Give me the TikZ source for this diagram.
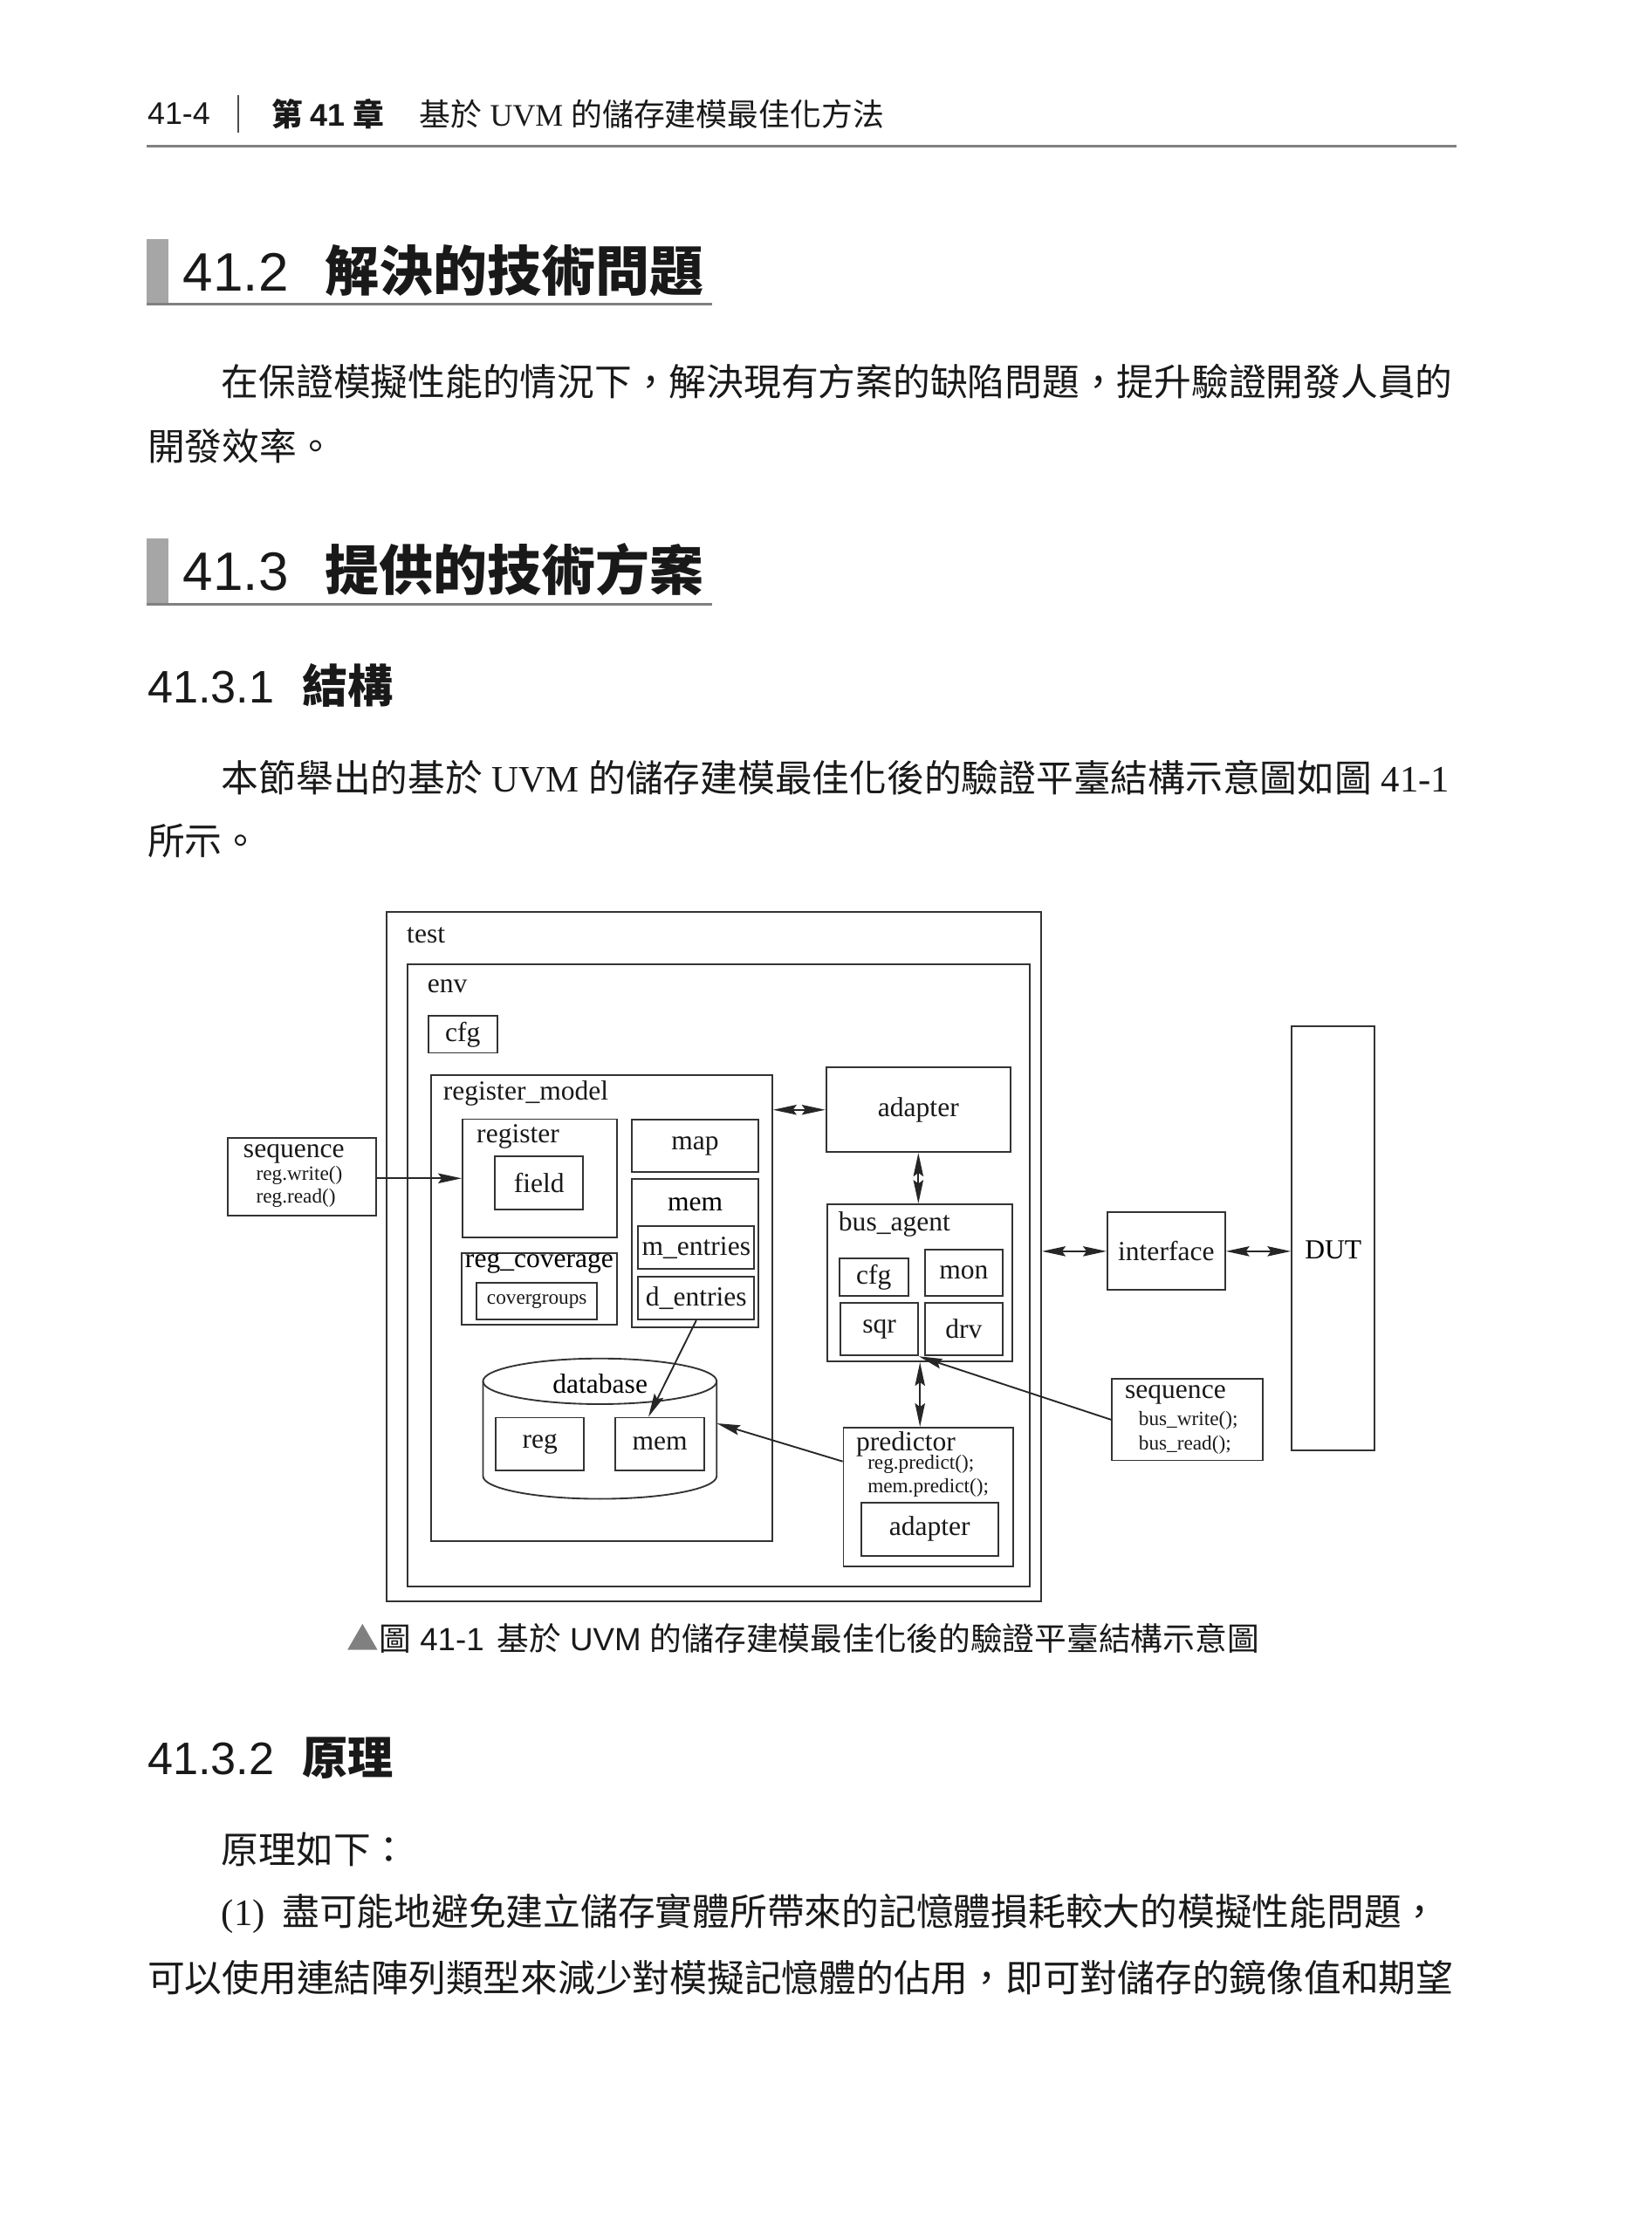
\documentclass[tikz,border=0pt]{standalone}
\usepackage{fontspec}
\setmainfont{Liberation Serif}
\setsansfont{Liberation Sans}
\newfontfamily\cjk{Noto Sans CJK TC}
\usetikzlibrary{arrows.meta}

\newcommand\bodysize{\fontsize{14.9}{18}\selectfont}
\newcommand\dgsize{\fontsize{11}{13}\selectfont}
\newcommand\codesize{\fontsize{8.1}{9.5}\selectfont}

\begin{document}
\begin{tikzpicture}[
    line width=0.65pt,
    txt/.style={anchor=west,inner sep=0pt,text=black!90},
    bodytext/.style={txt,font=\bodysize},
    sechead/.style={txt,font=\fontsize{21.6}{24}\selectfont},
    subhead/.style={txt,font=\fontsize{18.2}{20}\selectfont},
    graybar/.style={fill=black!35,draw=none},
    hdrule/.style={draw=black!50,line width=1.1pt},
    box/.style={draw=black!80,inner sep=0pt,font=\dgsize,text=black!90},
    tag/.style={txt,font=\dgsize},
    code/.style={txt,font=\codesize},
    arrow/.style={-{Stealth[length=3.3mm,width=1.4mm,inset=0.5mm]},draw=black!85},
    biarrow/.style={{Stealth[length=3.3mm,width=1.4mm,inset=0.5mm]}-{Stealth[length=3.3mm,width=1.4mm,inset=0.5mm]},draw=black!85}
]
% page area of the book scan
\path[use as bounding box,fill=white] (0,0) rectangle (23.18,-31.36);

% running head
\node[txt,font=\sffamily\fontsize{12.5}{14}\selectfont] (pageno) at (2.06,-1.60) {41-4};
\draw[black!70,line width=0.8pt] (3.34,-1.34) -- (3.34,-1.86);
\node[txt,font=\fontsize{12.5}{14}\selectfont] (chapno) at (3.80,-1.60)
    {{\cjk\bfseries 第} {\sffamily\bfseries 41} {\cjk\bfseries 章}};
\node[txt,font=\fontsize{12.5}{14}\selectfont] (runtitle) at (5.88,-1.60)
    {{\cjk 基於} UVM {\cjk 的儲存建模最佳化方法}};
\draw[hdrule] (2.06,-2.05) -- (20.44,-2.05);

% 41.2
\fill[graybar] (2.06,-3.36) rectangle (2.36,-4.26);
\node[sechead] (sec412) at (2.56,-3.80)
    {{\sffamily 41.2}\hspace{0.68em}{\cjk\bfseries 解決的技術問題}};
\draw[hdrule] (2.06,-4.27) -- (10.0,-4.27);
\node[bodytext] (para1a) at (3.10,-5.36)
    {\cjk 在保證模擬性能的情況下，解決現有方案的缺陷問題，提升驗證開發人員的};
\node[bodytext] (para1b) at (2.06,-6.26) {\cjk 開發效率。};

% 41.3
\fill[graybar] (2.06,-7.56) rectangle (2.36,-8.46);
\node[sechead] (sec413) at (2.56,-8.00)
    {{\sffamily 41.3}\hspace{0.68em}{\cjk\bfseries 提供的技術方案}};
\draw[hdrule] (2.06,-8.48) -- (10.0,-8.48);
\node[subhead] (sec4131) at (2.06,-9.62)
    {{\sffamily 41.3.1}\hspace{0.62em}{\cjk\bfseries 結構}};
\node[bodytext] (para2a) at (3.10,-10.92)
    {{\cjk 本節舉出的基於} UVM {\cjk 的儲存建模最佳化後的驗證平臺結構示意圖如圖} 41-1};
\node[bodytext] (para2b) at (2.06,-11.80) {\cjk 所示。};

% ---- figure 41-1 ----
\node[box,minimum width=9.188cm,minimum height=9.68cm] (test) at (10.022,-17.64) {};
\node[tag] (testlbl) at (5.70,-13.13) {test};
\node[box,minimum width=8.738cm,minimum height=8.736cm] (env) at (10.089,-17.906) {};
\node[tag] (envlbl) at (5.99,-13.84) {env};
\node[box,minimum width=0.966cm,minimum height=0.52cm] (envcfg) at (6.497,-14.52) {cfg};

% register model and its parts
\node[box,minimum width=4.788cm,minimum height=6.54cm] (regmodel) at (8.446,-18.362) {};
\node[tag] (regmodellbl) at (6.21,-15.352) {register\_model};
\node[box,minimum width=2.168cm,minimum height=1.662cm] (register) at (7.576,-16.541) {};
\node[tag] (registerlbl) at (6.68,-15.952) {register};
\node[box,minimum width=1.242cm,minimum height=0.742cm] (field) at (7.567,-16.605) {field};
\node[box,minimum width=1.772cm,minimum height=0.736cm] (map) at (9.758,-16.088) {map};
\node[box,minimum width=1.774cm,minimum height=2.082cm] (mem) at (9.759,-17.589) {};
\node[inner sep=0pt,font=\dgsize] (memlbl) at (9.758,-16.906) {mem};
\node[box,minimum width=1.63cm,minimum height=0.598cm] (mentries) at (9.773,-17.513) {m\_entries};
\node[box,minimum width=1.63cm,minimum height=0.598cm] (dentries) at (9.773,-18.225) {d\_entries};
\node[box,minimum width=2.18cm,minimum height=1.004cm] (regcov) at (7.57,-18.094) {};
\node[inner sep=0pt,font=\dgsize] (regcovlbl) at (7.57,-17.74) {reg\_coverage};
\node[box,font=\codesize,minimum width=1.688cm,minimum height=0.51cm] (covergroups) at (7.536,-18.265) {covergroups};

% database drum
\draw[draw=black!80] (6.78,-19.39) -- (6.78,-20.72)
    arc[start angle=180,end angle=360,x radius=1.64cm,y radius=0.32cm] -- (10.06,-19.39);
\draw[draw=black!80] (8.42,-19.39) ellipse[x radius=1.64cm,y radius=0.32cm];
\coordinate (dbside) at (10.06,-19.98);
\node[inner sep=0pt,font=\dgsize] (dblbl) at (8.424,-19.43) {database};
\node[box,minimum width=1.24cm,minimum height=0.74cm] (dbreg) at (7.58,-20.27) {reg};
\node[box,minimum width=1.248cm,minimum height=0.74cm] (dbmem) at (9.262,-20.27) {mem};

% agent side
\node[box,minimum width=2.59cm,minimum height=1.186cm] (adapter) at (12.891,-15.579) {adapter};
\node[box,minimum width=2.596cm,minimum height=2.206cm] (busagent) at (12.914,-18.009) {};
\node[tag] (busagentlbl) at (11.76,-17.19) {bus\_agent};
\node[box,minimum width=0.968cm,minimum height=0.526cm] (buscfg) at (12.264,-17.929) {cfg};
\node[box,minimum width=1.09cm,minimum height=0.648cm] (mon) at (13.529,-17.868) {mon};
\node[box,minimum width=1.086cm,minimum height=0.742cm] (sqr) at (12.343,-18.657) {sqr};
\node[box,minimum width=1.09cm,minimum height=0.742cm] (drv) at (13.529,-18.657) {drv};
\node[box,minimum width=2.38cm,minimum height=1.95cm] (predictor) at (13.03,-21.015) {};
\node[tag] (predictorlbl) at (12.006,-20.276) {predictor};
\node[code] (regpredict) at (12.168,-20.56) {reg.predict();};
\node[code] (mempredict) at (12.168,-20.888) {mem.predict();};
\node[box,minimum width=1.926cm,minimum height=0.748cm] (predadapter) at (13.049,-21.466) {adapter};

% outside the test
\node[box,minimum width=2.082cm,minimum height=1.092cm] (seqleft) at (4.239,-16.518) {};
\node[tag] (seqleftlbl) at (3.406,-16.192) {sequence};
\node[code] (regwrite) at (3.586,-16.50) {reg.write()};
\node[code] (regread) at (3.586,-16.82) {reg.read()};
\node[box,minimum width=1.652cm,minimum height=1.09cm] (interface) at (16.37,-17.565) {interface};
\node[box,minimum width=1.164cm,minimum height=5.954cm] (dut) at (18.714,-17.383) {};
\node[inner sep=0pt,font=\dgsize] (dutlbl) at (18.714,-17.544) {DUT};
\node[box,minimum width=2.122cm,minimum height=1.142cm] (seqright) at (16.669,-19.929) {};
\node[tag] (seqrightlbl) at (15.78,-19.58) {sequence};
\node[code] (buswrite) at (15.974,-19.946) {bus\_write();};
\node[code] (busread) at (15.974,-20.28) {bus\_read();};

% connections
\draw[arrow] (seqleft.east |- register.west) -- (register.west);
\draw[biarrow] (regmodel.east |- adapter.west) -- (adapter.west);
\draw[biarrow] (adapter.south) -- (adapter.south |- busagent.north);
\draw[biarrow] (test.east |- interface.west) -- (interface.west);
\draw[biarrow] (interface.east) -- (interface.east -| dut.west);
\draw[biarrow] (busagent.south) -- (busagent.south |- predictor.north);
\draw[arrow] (seqright.west) -- (sqr.south east);
\draw[arrow] (dentries.south) -- ([xshift=-0.16cm]dbmem.north);
\draw[arrow] ([yshift=0.5cm]predictor.west) -- (dbside);

\node[txt,font=\sffamily\fontsize{12.8}{14}\selectfont] (caption) at (4.86,-23.0)
    {{\cjk\color{black!50}▲}{\cjk 圖} 41-1\hspace{0.4em}{\cjk 基於} UVM {\cjk 的儲存建模最佳化後的驗證平臺結構示意圖}};

% 41.3.2
\node[subhead] (sec4132) at (2.06,-24.68)
    {{\sffamily 41.3.2}\hspace{0.62em}{\cjk\bfseries 原理}};
\node[bodytext] (para3a) at (3.10,-25.96) {\cjk 原理如下：};
\node[bodytext] (para3b) at (3.10,-26.86)
    {(1)\hspace{0.24cm}{\cjk 盡可能地避免建立儲存實體所帶來的記憶體損耗較大的模擬性能問題，}};
\node[bodytext] (para3c) at (2.06,-27.76)
    {\cjk 可以使用連結陣列類型來減少對模擬記憶體的佔用，即可對儲存的鏡像值和期望};
\end{tikzpicture}
\end{document}
